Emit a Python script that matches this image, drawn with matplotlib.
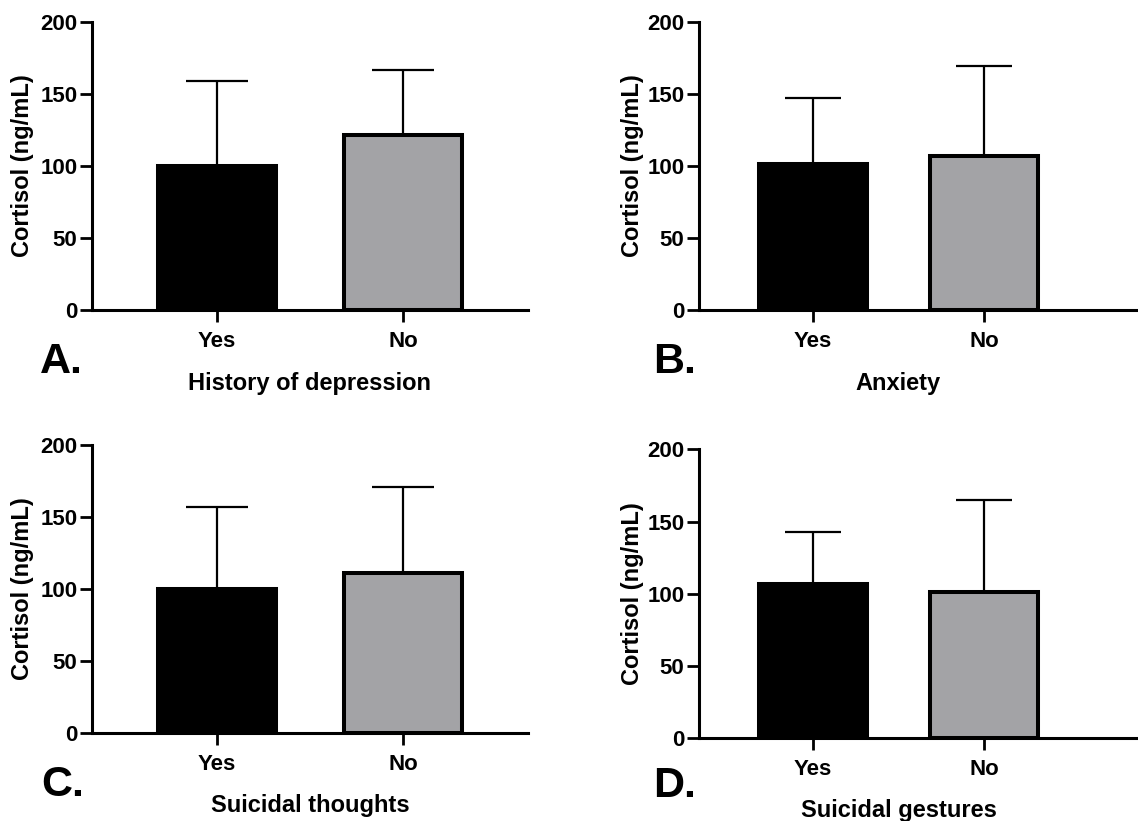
import numpy as np
import matplotlib as mpl
mpl.use("Agg")
import matplotlib.pyplot as plt

mpl.rcParams['font.family'] = ['Liberation Sans', 'DejaVu Sans']
mpl.rcParams['font.weight'] = 'bold'

# data
groups = ['Yes', 'No']
panels = ['A.', 'B.', 'C.', 'D.']
xlabels = ['History of depression', 'Anxiety', 'Suicidal thoughts', 'Suicidal gestures']
means = [[100.0, 121.5], [101.2, 106.7], [99.8, 110.8], [106.7, 101.0]]
upper = [[159.0, 167.0], [147.5, 169.7], [156.5, 170.5], [143.0, 164.7]]
yticks = [0, 50, 100, 150, 200]
ylab = 'Cortisol (ng/mL)'

W, H = 1138, 821
fig = plt.figure(figsize=(W / 100, H / 100), dpi=100)

# axes boxes in pixels: left, right, y of 0, y of 200
boxes = [(92, 528, 310, 22), (699, 1140, 310, 22),
         (92, 528, 733.3, 444.7), (699, 1140, 738.3, 449.3)]
xlims = [(-0.672, 1.672), (-0.667, 1.912), (-0.672, 1.672), (-0.667, 1.912)]
caps = [22, 20, 22, 20]
# text positions (pixels)
letter_pos = [(40, 373), (653, 373), (41, 796), (653, 797)]
xlab_pos = [(310, 390), (898, 390), (310, 812), (899, 817)]
ylab_x = [23, 633, 23, 633]

fillc = ['black', '#a3a3a6']

for i in range(4):
    l, r, y0, y1 = boxes[i]
    ax = fig.add_axes([l / W, 1 - y0 / H, (r - l) / W, (y0 - y1) / H])
    x = np.arange(len(groups))
    sd = np.array(upper[i]) - np.array(means[i])
    ax.errorbar(x, means[i], yerr=[np.zeros(2), sd], fmt='none', ecolor='black',
                elinewidth=1.6, capsize=caps[i], capthick=1.6, zorder=1)
    ax.bar(x, means[i], width=0.63, color=fillc, edgecolor='black',
           linewidth=2.9, zorder=2)
    ax.set_xlim(*xlims[i])
    ax.set_ylim(0, 200)
    ax.set_yticks(yticks)
    ax.set_xticks(x)
    ax.set_xticklabels(groups)
    for s in ['top', 'right']:
        ax.spines[s].set_visible(False)
    for s in ['left', 'bottom']:
        ax.spines[s].set_linewidth(2.2)
    ax.tick_params(axis='both', direction='out', length=8.5, width=2.0,
                   labelsize=16)
    ax.tick_params(axis='y', pad=2)
    ax.tick_params(axis='x', pad=6.5)
    for t in ax.get_xticklabels() + ax.get_yticklabels():
        t.set_fontweight('bold')

    fig.text(letter_pos[i][0] / W, 1 - letter_pos[i][1] / H, panels[i],
             fontsize=31, fontweight='bold', ha='left', va='baseline')
    fig.text(xlab_pos[i][0] / W, 1 - xlab_pos[i][1] / H, xlabels[i],
             fontsize=17, fontweight='bold', ha='center', va='baseline')
    fig.text(ylab_x[i] / W, 1 - (y0 + y1) / 2 / H, ylab, rotation=90,
             fontsize=17, fontweight='bold', ha='center', va='center')

plt.savefig('out.png', dpi=100)
